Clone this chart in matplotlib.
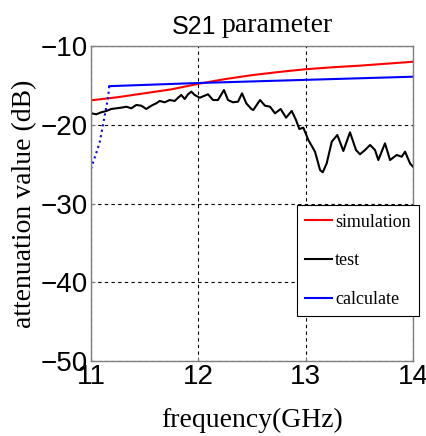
import matplotlib
matplotlib.use("Agg")
import matplotlib.pyplot as plt

# simulation (red)
sim_freq = [11.0, 11.25, 11.5, 11.75, 12.0, 12.25, 12.5, 12.75, 13.0, 13.25, 13.5, 13.75, 14.0]
sim_db = [-16.9, -16.5, -16.0, -15.5, -14.8, -14.2, -13.7, -13.3, -12.95, -12.7, -12.5, -12.25, -12.0]

# test (black)
test_freq = [11.003, 11.049, 11.096, 11.143, 11.189, 11.236, 11.282, 11.329, 11.375, 11.422,
             11.469, 11.515, 11.562, 11.608, 11.640, 11.687, 11.733, 11.780, 11.811, 11.841,
             11.873, 11.904, 11.935, 11.966, 12.013, 12.059, 12.090, 12.137, 12.183, 12.239,
             12.276, 12.323, 12.370, 12.407, 12.447, 12.494, 12.512, 12.575, 12.621, 12.668,
             12.714, 12.767, 12.817, 12.870, 12.910, 12.941, 12.978, 13.025, 13.087, 13.134,
             13.159, 13.196, 13.243, 13.295, 13.351, 13.413, 13.469, 13.506, 13.553, 13.600,
             13.646, 13.677, 13.739, 13.786, 13.848, 13.895, 13.926, 13.972, 14.0]
test_db = [-18.55, -18.67, -18.42, -18.25, -18.0, -17.91, -17.83, -17.71, -17.91, -17.49,
           -17.58, -18.0, -17.58, -17.28, -16.98, -17.15, -16.86, -16.98, -16.57, -16.22,
           -16.73, -16.13, -15.80, -16.22, -16.57, -16.31, -16.13, -16.86, -16.86, -15.59,
           -16.86, -17.15, -17.07, -16.01, -17.28, -18.0, -18.13, -16.86, -17.58, -17.71,
           -18.55, -18.0, -19.10, -18.25, -19.40, -20.54, -20.37, -21.94, -23.42, -25.75,
           -26.04, -24.90, -22.15, -21.30, -23.33, -20.96, -23.21, -23.75, -23.21, -22.57,
           -23.21, -24.48, -22.36, -24.48, -23.84, -24.06, -23.42, -24.90, -25.33]

# calculate (blue)
calc_freq = [11.17, 12.0, 13.0, 14.0]
calc_db = [-15.1, -14.7, -14.3, -13.9]
calc_start_freq = [11.0, 11.08, 11.16, 11.17]
calc_start_db = [-25.6, -22.3, -16.5, -15.1]

serif = "Liberation Serif"
sans = "Liberation Sans"

fig = plt.figure(figsize=(4.26, 4.36), dpi=100)
ax = fig.add_axes([0.2136, 0.172, 0.7559, 0.7225])

ax.plot(sim_freq, sim_db, color="#ff0000", lw=1.5, label="simulation")
ax.plot(test_freq, test_db, color="black", lw=1.5, label="test", solid_joinstyle="round")
ax.plot(calc_freq, calc_db, color="#0000ff", lw=1.5, label="calculate")
ax.plot(calc_start_freq, calc_start_db, color="#0000ff", lw=1.5, ls=":")

ax.set_xlim(11, 14)
ax.set_ylim(-50, -10)
ax.set_xticks([11, 12, 13, 14])
ax.set_yticks([-50, -40, -30, -20, -10])
ax.grid(True, color="black", ls=(0, (3, 3)), lw=0.8)

for s in ax.spines.values():
    s.set_color("#7f7f7f")
    s.set_linewidth(1.0)
ax.tick_params(direction="in", length=3, color="#7f7f7f", labelsize=20, pad=2)
for lab in ax.get_xticklabels() + ax.get_yticklabels():
    lab.set_family(sans)

ax.set_xlabel("frequency(GHz)", family=serif, fontsize=20)
ax.set_ylabel("attenuation value (dB)", family=serif, fontsize=20)
ax.xaxis.set_label_coords(0.5, -0.149)
ax.yaxis.set_label_coords(-0.168, 0.5)

fig.text(216 / 426, 1 - 34 / 436, "S21", family=sans, fontsize=18, ha="right", va="baseline")
fig.text(222 / 426, 1 - 31.5 / 436, "parameter", family=serif, fontsize=20, ha="left", va="baseline")

leg = ax.legend(loc="lower left", bbox_to_anchor=(0.64, 0.143), borderaxespad=0,
                prop={"family": serif, "size": 13}, fancybox=False, framealpha=1,
                edgecolor="black", borderpad=0.45, labelspacing=1.2,
                handlelength=1.5, handletextpad=0.15)
leg.get_frame().set_linewidth(0.8)

fig.savefig("out.png", dpi=100)
